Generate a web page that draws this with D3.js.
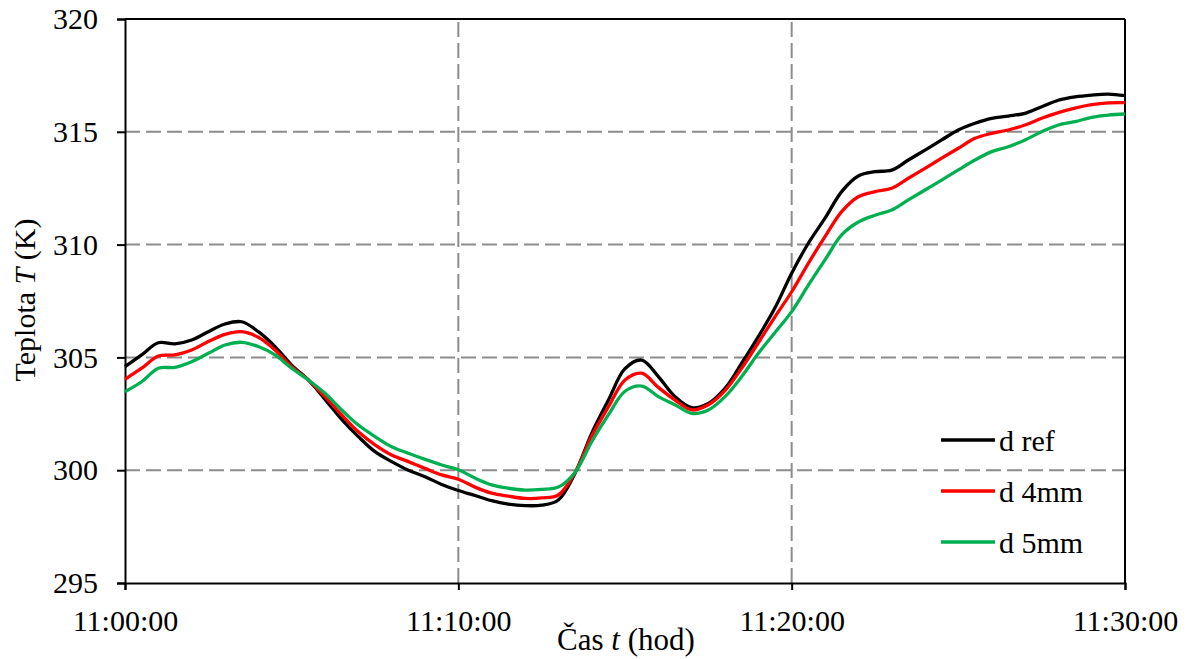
<!DOCTYPE html>
<html>
<head>
<meta charset="utf-8">
<script src="https://cdn.jsdelivr.net/npm/d3@7"></script>
<style>
  html, body { margin: 0; padding: 0; background: #fff; }
  svg { display: block; }
</style>
</head>
<body>
<svg id="chart" width="1191" height="659"></svg>
<script>
// Time in minutes after 11:00:00, sampled every half minute
const minutes = d3.range(0, 30.01, 0.5);

const seriesNames = ["d ref", "d 4mm", "d 5mm"];
const seriesColors = ["#000000", "#ff0000", "#00b050"];

const tRef = [
  304.59, 305.11, 305.65, 305.60, 305.77, 306.14, 306.48, 306.58, 306.14, 305.48,
  304.66, 304.00, 303.14, 302.25, 301.49, 300.82, 300.38, 300.00, 299.71, 299.37,
  299.10, 298.88, 298.65, 298.50, 298.43, 298.45, 298.68, 299.86, 301.63, 303.10,
  304.50, 304.88, 304.15, 303.26, 302.77, 302.96, 303.63, 304.74, 305.92, 307.20,
  308.73, 310.06, 311.17, 312.35, 313.04, 313.23, 313.30, 313.75, 314.19, 314.64,
  315.08, 315.38, 315.60, 315.70, 315.82, 316.11, 316.40, 316.55, 316.63, 316.67,
  316.60
];

const t4mm = [
  304.03, 304.52, 305.06, 305.11, 305.33, 305.70, 306.02, 306.14, 305.89, 305.33,
  304.59, 304.00, 303.26, 302.45, 301.70, 301.12, 300.67, 300.38, 300.08, 299.79,
  299.60, 299.25, 298.98, 298.85, 298.75, 298.77, 298.90, 299.90, 301.50, 302.80,
  304.00, 304.30, 303.67, 303.11, 302.67, 302.90, 303.53, 304.52, 305.65, 306.80,
  307.91, 309.17, 310.35, 311.46, 312.12, 312.35, 312.50, 312.94, 313.38, 313.83,
  314.27, 314.71, 314.93, 315.08, 315.30, 315.60, 315.85, 316.05, 316.20, 316.28,
  316.29
];

const t5mm = [
  303.48, 303.92, 304.52, 304.56, 304.81, 305.18, 305.55, 305.67, 305.48, 305.11,
  304.52, 304.00, 303.41, 302.67, 302.00, 301.49, 301.04, 300.75, 300.48, 300.23,
  300.02, 299.65, 299.35, 299.20, 299.12, 299.15, 299.25, 299.90, 301.26, 302.45,
  303.50, 303.73, 303.26, 302.90, 302.52, 302.67, 303.26, 304.15, 305.18, 306.10,
  307.03, 308.20, 309.32, 310.43, 311.00, 311.30, 311.53, 311.98, 312.42, 312.86,
  313.31, 313.75, 314.12, 314.34, 314.64, 315.00, 315.30, 315.45, 315.64, 315.74,
  315.79
];

const xTickMinutes = [0, 10, 20, 30];
const xTickLabels = ["11:00:00", "11:10:00", "11:20:00", "11:30:00"];
const yTicks = [295, 300, 305, 310, 315, 320];

const seriesValues = [tRef, t4mm, t5mm];

const SERIF = '"Liberation Serif", "Times New Roman", serif';

const svg = d3.select("#chart");
const margin = { left: 125, right: 66, top: 19, bottom: 76 };
const W = 1191, H = 659;
const pw = W - margin.left - margin.right;
const ph = H - margin.top - margin.bottom;

const x = d3.scaleLinear().domain([0, 30]).range([margin.left, margin.left + pw]);
const y = d3.scaleLinear().domain([295, 320]).range([margin.top + ph, margin.top]);

// Dashed grid
const grid = svg.append("g");
grid.selectAll("line.h").data(yTicks.filter(v => v > 295 && v < 320)).enter()
  .append("line")
  .attr("x1", x(0)).attr("x2", x(30))
  .attr("y1", d => y(d)).attr("y2", d => y(d))
  .attr("stroke", "#8c8c8c").attr("stroke-width", 2)
  .attr("stroke-dasharray", "15,6");
grid.selectAll("line.v").data(xTickMinutes.filter(v => v > 0 && v < 30)).enter()
  .append("line")
  .attr("x1", d => x(d)).attr("x2", d => x(d))
  .attr("y1", y(295)).attr("y2", y(320))
  .attr("stroke", "#8c8c8c").attr("stroke-width", 2)
  .attr("stroke-dasharray", "15,6");

// Axes
const xAxis = d3.axisBottom(x).tickValues(xTickMinutes)
  .tickFormat((d, i) => xTickLabels[i]).tickSize(7).tickPadding(20);
const yAxis = d3.axisLeft(y).tickValues(yTicks).tickSize(8).tickPadding(19);

const gx = svg.append("g").attr("transform", `translate(0,${y(295)})`).call(xAxis);
const gy = svg.append("g").attr("transform", `translate(${x(0)},0)`).call(yAxis);
[gx, gy].forEach(g => {
  g.select(".domain").attr("stroke", "#000").attr("stroke-width", 2);
  g.selectAll(".tick line").attr("stroke", "#000").attr("stroke-width", 2);
  g.selectAll(".tick text")
    .style("font-family", SERIF)
    .style("font-size", "30px")
    .attr("fill", "#000");
});
gx.selectAll(".tick text").attr("dy", "0.71em");
gy.selectAll(".tick text").attr("dy", "0.32em");

// Top and right border
svg.append("line").attr("x1", x(0)).attr("x2", x(30)).attr("y1", y(320)).attr("y2", y(320))
  .attr("stroke", "#000").attr("stroke-width", 2);
svg.append("line").attr("x1", x(30)).attr("x2", x(30)).attr("y1", y(320)).attr("y2", y(295))
  .attr("stroke", "#000").attr("stroke-width", 2);

// Series lines
const line = d3.line()
  .x((d, i) => x(minutes[i]))
  .y(d => y(d))
  .curve(d3.curveCatmullRom.alpha(0.5));

seriesValues.forEach((vals, k) => {
  svg.append("path")
    .datum(vals)
    .attr("fill", "none")
    .attr("stroke", seriesColors[k])
    .attr("stroke-width", 3.3)
    .attr("stroke-linejoin", "round")
    .attr("d", line);
});

// Axis titles
const xTitle = svg.append("text")
  .attr("x", 626).attr("y", 650)
  .attr("text-anchor", "middle")
  .style("font-family", SERIF)
  .style("font-size", "31px");
xTitle.append("tspan").text("Čas ");
xTitle.append("tspan").style("font-style", "italic").text("t");
xTitle.append("tspan").text(" (hod)");

const yTitle = svg.append("text")
  .attr("transform", "translate(35,300) rotate(-90)")
  .attr("text-anchor", "middle")
  .style("font-family", SERIF)
  .style("font-size", "30px");
yTitle.append("tspan").text("Teplota ");
yTitle.append("tspan").style("font-style", "italic").text("T");
yTitle.append("tspan").text(" (K)");

// Legend
const legendY = [440, 491, 542];
const legend = svg.append("g");
seriesNames.forEach((name, k) => {
  legend.append("line")
    .attr("x1", 941).attr("x2", 995)
    .attr("y1", legendY[k]).attr("y2", legendY[k])
    .attr("stroke", seriesColors[k]).attr("stroke-width", 3.5);
  legend.append("text")
    .attr("x", 999).attr("y", legendY[k] + 11)
    .style("font-family", SERIF)
    .style("font-size", "30px")
    .text(name);
});
</script>
</body>
</html>
